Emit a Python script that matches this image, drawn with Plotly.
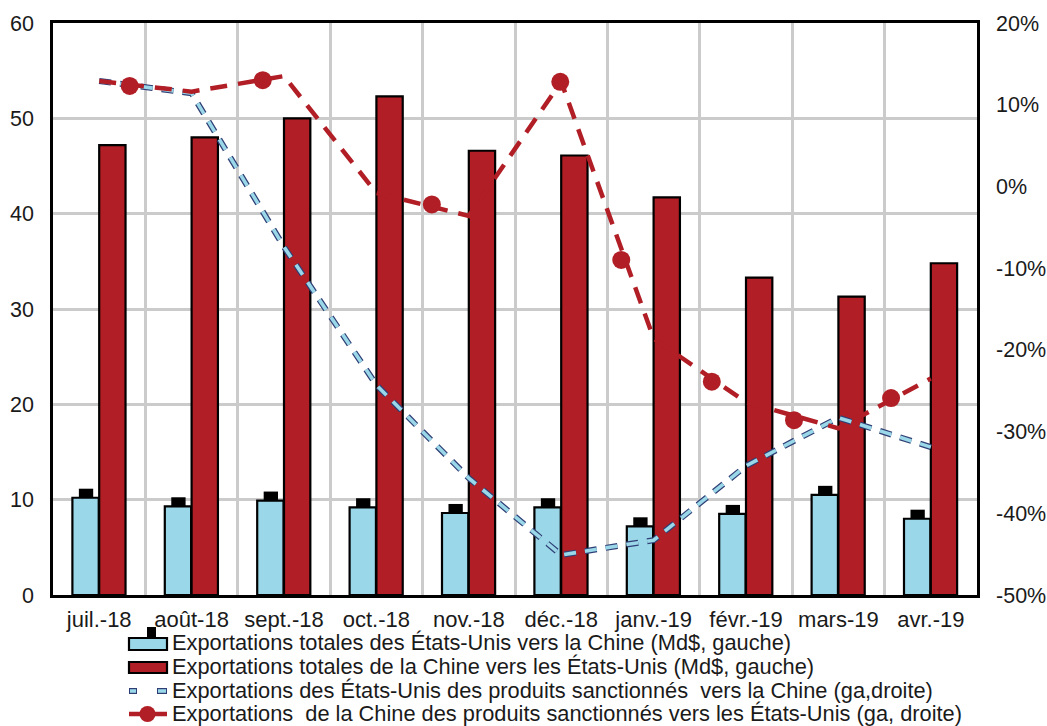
import plotly.graph_objects as go

# ---------------- data ----------------
months = ["juil.-18", "août-18", "sept.-18", "oct.-18", "nov.-18", "déc.-18",
          "janv.-19", "févr.-19", "mars-19", "avr.-19"]
us_total = [10.2, 9.3, 9.9, 9.2, 8.6, 9.2, 7.2, 8.5, 10.5, 8.0]          # Md$, gauche
china_total = [47.2, 48.0, 50.0, 52.3, 46.6, 46.1, 41.7, 33.3, 31.3, 34.8]  # Md$, gauche
us_sanct = [12.9, 11.4, -7.4, -24.3, -35.7, -45.1, -43.3, -34.2, -28.3, -31.9]  # %, droite
china_sanct = [12.9, 11.6, 13.5, -0.8, -3.6, 12.8, -18.6, -26.4, -29.6, -23.5]  # %, droite
# marker points of the Chinese series as they appear on the chart (month index, %)
china_marker_idx = [0.33, 1.77, 3.60, 4.99, 5.65, 6.63, 7.52, 8.57]
china_marker_val = [12.3, 13.0, -2.2, 12.8, -9.0, -23.9, -28.6, -25.9]

left_ticks = [0, 10, 20, 30, 40, 50, 60]
right_ticks = [-50, -40, -30, -20, -10, 0, 10, 20]

legend_labels = [
    "Exportations totales des États-Unis vers la Chine (Md$, gauche)",
    "Exportations totales de la Chine vers les États-Unis (Md$, gauche)",
    "Exportations des États-Unis des produits sanctionnés  vers la Chine (ga,droite)",
    "Exportations  de la Chine des produits sanctionnés vers les États-Unis (ga, droite)",
]

# ---------------- style ----------------
BLUE = "#9ad7e8"
RED = "#b11e25"
NAVY = "#2f3f75"
GRID = "#cbcbcb"
TXT = "#1a1a1a"
FONT = "Liberation Sans, Arial, sans-serif"

W, H = 1047, 726
ML, MR, MT, MB = 53, 70, 23, 131
PW, PH = W - ML - MR, H - MT - MB

idx = list(range(len(months)))

fig = go.Figure()

# black cap behind the blue bars
fig.add_trace(go.Bar(x=idx, y=[0.95] * len(idx), base=us_total, offset=-0.22, width=0.155,
                     marker=dict(color="black", line=dict(width=0)),
                     showlegend=False, hoverinfo="skip"))
fig.add_trace(go.Bar(x=idx, y=us_total, offset=-0.29, width=0.285,
                     marker=dict(color=BLUE, line=dict(color="black", width=2.2)),
                     name=legend_labels[0], showlegend=False))
fig.add_trace(go.Bar(x=idx, y=china_total, offset=0.0, width=0.285,
                     marker=dict(color=RED, line=dict(color="black", width=2.2)),
                     name=legend_labels[1], showlegend=False))

# US sanctioned products line (outlined dashes)
fig.add_trace(go.Scatter(x=idx, y=us_sanct, yaxis="y2", mode="lines",
                         line=dict(color=NAVY, width=6, dash="12px,9px"),
                         showlegend=False, hoverinfo="skip"))
fig.add_trace(go.Scatter(x=idx, y=us_sanct, yaxis="y2", mode="lines",
                         line=dict(color=BLUE, width=3.6, dash="12px,9px"),
                         name=legend_labels[2], showlegend=False))

# China sanctioned products line
fig.add_trace(go.Scatter(x=idx, y=china_sanct, yaxis="y2", mode="lines",
                         line=dict(color=RED, width=4.5, dash="17px,11px"),
                         name=legend_labels[3], showlegend=False))
fig.add_trace(go.Scatter(x=china_marker_idx, y=china_marker_val, yaxis="y2", mode="markers",
                         marker=dict(color=RED, size=18, line=dict(width=0)),
                         showlegend=False, hoverinfo="skip"))

fig.update_layout(
    width=W, height=H,
    margin=dict(l=ML, r=MR, t=MT, b=MB, autoexpand=False),
    paper_bgcolor="white", plot_bgcolor="white",
    barmode="overlay",
    font=dict(family=FONT, size=21, color=TXT),
    xaxis=dict(range=[-0.5, len(months) - 0.5], tickvals=idx, ticktext=months,
               showgrid=False, zeroline=False, automargin=False,
               showline=True, linecolor="black", linewidth=2.5, mirror=True,
               ticks="", tickfont=dict(size=22), ticklabelstandoff=3,
               minor=dict(tickvals=[i + 0.5 for i in idx[:-1]], showgrid=True,
                          gridcolor=GRID, gridwidth=2.5, ticks="")),
    yaxis=dict(range=[0, 60], tickvals=left_ticks, showgrid=True, gridcolor=GRID,
               gridwidth=2.5, zeroline=False, automargin=False,
               showline=True, linecolor="black", linewidth=2.5, mirror=True,
               ticks="", tickfont=dict(size=21.5), ticklabelstandoff=12),
    yaxis2=dict(range=[-50, 20], tickvals=right_ticks,
                ticktext=[f"{v}%" for v in right_ticks],
                overlaying="y", side="right", showgrid=False, zeroline=False,
                automargin=False,
                showline=True, linecolor="black", linewidth=2.5,
                ticks="", tickfont=dict(size=21.5), ticklabelstandoff=12),
    showlegend=False,
)


# ---------------- custom legend ----------------
def px(x):
    return (x - ML) / PW


def py(y):
    return (MT + PH - y) / PH


shapes = []
# row 1: blue bar with black cap
shapes.append(dict(type="rect", xref="paper", yref="paper",
                   x0=px(147), x1=px(156), y0=py(638), y1=py(627),
                   fillcolor="black", line=dict(width=0)))
shapes.append(dict(type="rect", xref="paper", yref="paper",
                   x0=px(129), x1=px(167), y0=py(650), y1=py(638),
                   fillcolor=BLUE, line=dict(color="black", width=2.2)))
# row 2: red bar
shapes.append(dict(type="rect", xref="paper", yref="paper",
                   x0=px(129), x1=px(167), y0=py(673), y1=py(662),
                   fillcolor=RED, line=dict(color="black", width=2.2)))
# row 3: blue outlined dashes
for a, b in [(129, 137), (157, 167)]:
    shapes.append(dict(type="line", xref="paper", yref="paper",
                       x0=px(a), x1=px(b), y0=py(691), y1=py(691),
                       line=dict(color=NAVY, width=6)))
    shapes.append(dict(type="line", xref="paper", yref="paper",
                       x0=px(a + 1), x1=px(b - 1), y0=py(691), y1=py(691),
                       line=dict(color=BLUE, width=3.6)))
# row 4: red line with circle
shapes.append(dict(type="line", xref="paper", yref="paper",
                   x0=px(129), x1=px(167), y0=py(714), y1=py(714),
                   line=dict(color=RED, width=4.5)))
shapes.append(dict(type="circle", xref="paper", yref="paper",
                   x0=px(139.5), x1=px(155.5), y0=py(722), y1=py(706),
                   fillcolor=RED, line=dict(width=0)))
fig.update_layout(shapes=shapes)

for lab, yc in zip(legend_labels, [642, 666, 690, 713]):
    fig.add_annotation(text=lab, xref="paper", yref="paper", x=px(170), y=py(yc),
                       xanchor="left", yanchor="middle", showarrow=False,
                       font=dict(size=21.8, color=TXT, family=FONT))

fig.write_html("out.html",
               config={"displayModeBar": False},
               post_script="document.body.style.margin='0';"
                           "document.body.style.padding='0';"
                           "document.body.style.overflow='hidden';")
